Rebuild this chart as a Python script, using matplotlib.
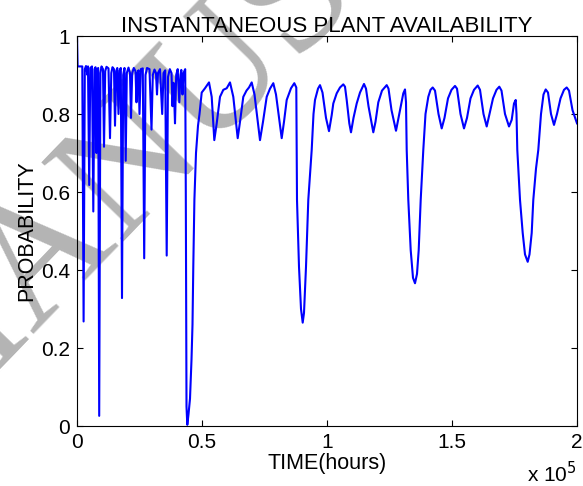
import matplotlib
matplotlib.use("Agg")
import matplotlib.pyplot as plt
import numpy as np
from matplotlib.ticker import FuncFormatter

# time in thousands of hours, availability probability
time_kh = np.array([
    0.0, 0.24, 2.12, 2.64, 3.12, 3.6, 4.2, 4.4, 4.88, 5.32,
    6.0, 6.52, 7.0, 7.4, 7.76, 8.12, 8.48, 8.88, 9.36, 9.8,
    10.4, 10.8, 11.28, 11.8, 12.6, 13.2, 13.72, 14.2, 14.8, 15.2,
    15.68, 16.12, 16.6, 17.04, 17.52, 18.0, 18.48, 19.0, 19.48, 19.92,
    20.6, 21.2, 21.6, 22.08, 22.72, 23.4, 23.8, 24.2, 24.6, 25.0,
    25.52, 26.32, 26.88, 27.4, 28.0, 29.0, 29.8, 30.32, 31.0, 31.6,
    32.0, 32.4, 33.2, 34.08, 34.6, 35.28, 35.88, 36.4, 37.12, 37.8,
    38.2, 38.6, 38.88, 39.2, 39.68, 40.28, 40.92, 41.4, 41.72, 42.2,
    42.6, 43.28, 43.52, 43.8, 44.12, 44.6, 45.2, 45.8, 46.2, 46.52,
    46.96, 47.6, 48.4, 49.0, 49.88, 51.2, 52.8, 53.88, 54.92, 55.88,
    57.2, 58.52, 59.88, 61.2, 62.52, 64.28, 65.2, 66.52, 67.8, 68.8,
    69.88, 71.0, 73.2, 74.4, 75.88, 77.2, 78.52, 79.6, 81.88, 82.8,
    83.88, 85.6, 86.92, 87.72, 88.0, 88.8, 89.6, 90.28, 90.8, 91.6,
    92.52, 93.88, 94.6, 95.2, 96.4, 97.2, 98.2, 99.6, 100.8, 101.88,
    102.52, 103.88, 105.2, 106.52, 107.2, 107.88, 108.92, 109.6, 110.6, 111.88,
    113.2, 114.8, 115.6, 116.6, 118.52, 119.4, 120.52, 122.0, 123.88, 124.6,
    125.8, 127.6, 129.2, 130.52, 131.2, 131.6, 131.88, 132.52, 133.48, 134.4,
    135.2, 136.0, 136.68, 137.48, 138.52, 139.4, 140.52, 141.4, 142.28, 143.2,
    144.6, 145.88, 147.0, 148.4, 149.8, 151.2, 152.0, 153.4, 154.8, 156.0,
    157.4, 158.8, 160.28, 161.2, 162.6, 163.88, 165.0, 166.4, 167.8, 168.92,
    169.8, 171.2, 172.8, 173.88, 174.8, 175.48, 175.8, 176.12, 177.2, 178.28,
    179.2, 180.28, 181.0, 181.88, 182.52, 183.6, 184.52, 185.6, 186.6, 187.48,
    188.4, 189.6, 190.8, 192.0, 193.4, 194.8, 195.88, 196.8, 198.2, 200.0,
])

availability = np.array([
    1.00, 0.922, 0.922, 0.268, 0.915, 0.923, 0.90, 0.922, 0.618, 0.918,
    0.922, 0.55, 0.915, 0.92, 0.70, 0.915, 0.918, 0.026, 0.905, 0.922,
    0.915, 0.716, 0.91, 0.921, 0.917, 0.738, 0.905, 0.92, 0.915, 0.77,
    0.91, 0.918, 0.80, 0.912, 0.918, 0.328, 0.90, 0.918, 0.68, 0.905,
    0.919, 0.905, 0.79, 0.905, 0.918, 0.91, 0.83, 0.905, 0.912, 0.80,
    0.915, 0.917, 0.43, 0.90, 0.918, 0.915, 0.76, 0.90, 0.914, 0.905,
    0.85, 0.905, 0.915, 0.80, 0.905, 0.912, 0.437, 0.895, 0.915, 0.905,
    0.82, 0.88, 0.84, 0.776, 0.90, 0.915, 0.83, 0.90, 0.913, 0.85,
    0.905, 0.915, 0.60, 0.05, 0.003, 0.03, 0.07, 0.17, 0.26, 0.41,
    0.58, 0.70, 0.77, 0.80, 0.855, 0.866, 0.881, 0.844, 0.733, 0.776,
    0.844, 0.862, 0.866, 0.881, 0.844, 0.738, 0.78, 0.844, 0.86, 0.868,
    0.881, 0.85, 0.733, 0.78, 0.844, 0.865, 0.879, 0.85, 0.738, 0.78,
    0.836, 0.866, 0.879, 0.868, 0.58, 0.408, 0.30, 0.265, 0.29, 0.408,
    0.58, 0.708, 0.80, 0.836, 0.865, 0.874, 0.855, 0.79, 0.756, 0.797,
    0.827, 0.853, 0.868, 0.876, 0.870, 0.836, 0.776, 0.753, 0.79, 0.827,
    0.855, 0.877, 0.865, 0.82, 0.753, 0.78, 0.83, 0.86, 0.874, 0.865,
    0.81, 0.757, 0.81, 0.853, 0.863, 0.83, 0.708, 0.58, 0.451, 0.38,
    0.366, 0.39, 0.451, 0.58, 0.708, 0.80, 0.844, 0.862, 0.868, 0.86,
    0.80, 0.763, 0.79, 0.84, 0.862, 0.872, 0.865, 0.80, 0.763, 0.79,
    0.84, 0.862, 0.873, 0.862, 0.80, 0.768, 0.80, 0.84, 0.862, 0.870,
    0.86, 0.80, 0.768, 0.785, 0.827, 0.836, 0.80, 0.708, 0.58, 0.495,
    0.44, 0.421, 0.44, 0.495, 0.58, 0.66, 0.708, 0.80, 0.85, 0.863,
    0.855, 0.80, 0.772, 0.80, 0.84, 0.862, 0.868, 0.86, 0.81, 0.776,
])

x_ticks = [0, 50000, 100000, 150000, 200000]
y_ticks = [0, 0.2, 0.4, 0.6, 0.8, 1.0]

plt.rcParams["font.family"] = ["Liberation Sans", "DejaVu Sans"]

fig = plt.figure(figsize=(5.83, 4.86), dpi=100)

# faint diagonal watermark behind the plot
fig.text(
    -0.13, 0.09, "MANUSCRIPT",
    rotation=46, rotation_mode="anchor",
    ha="left", va="baseline",
    fontsize=125, family="Liberation Serif",
    color="#b4b4b4", zorder=-1,
)

ax = fig.add_axes([77 / 583, 1 - 426 / 486, 500 / 583, 390 / 486])
ax.set_facecolor("none")

ax.plot(time_kh * 1000, availability, color="#0000ff", linewidth=1.5)

ax.set_xlim(0, 200000)
ax.set_ylim(0, 1)
ax.set_xticks(x_ticks)
ax.set_yticks(y_ticks)
ax.xaxis.set_major_formatter(FuncFormatter(lambda v, p: f"{v / 1e5:g}"))
ax.yaxis.set_major_formatter(FuncFormatter(lambda v, p: f"{v:g}"))

ax.tick_params(
    direction="in", length=4.5, width=0.8,
    top=True, right=True, labelsize=15, pad=5,
)
for spine in ax.spines.values():
    spine.set_linewidth(0.8)

ax.set_title("INSTANTANEOUS PLANT AVAILABILITY", fontsize=16, pad=3)
ax.set_xlabel("TIME(hours)", fontsize=15.5, labelpad=1)
ax.set_ylabel("PROBABILITY", fontsize=15.5, labelpad=3)

ax.text(1.0, -0.09, r"x 10$^5$", transform=ax.transAxes,
        ha="right", va="top", fontsize=15)

fig.savefig("out.png", dpi=100)
plt.close(fig)
